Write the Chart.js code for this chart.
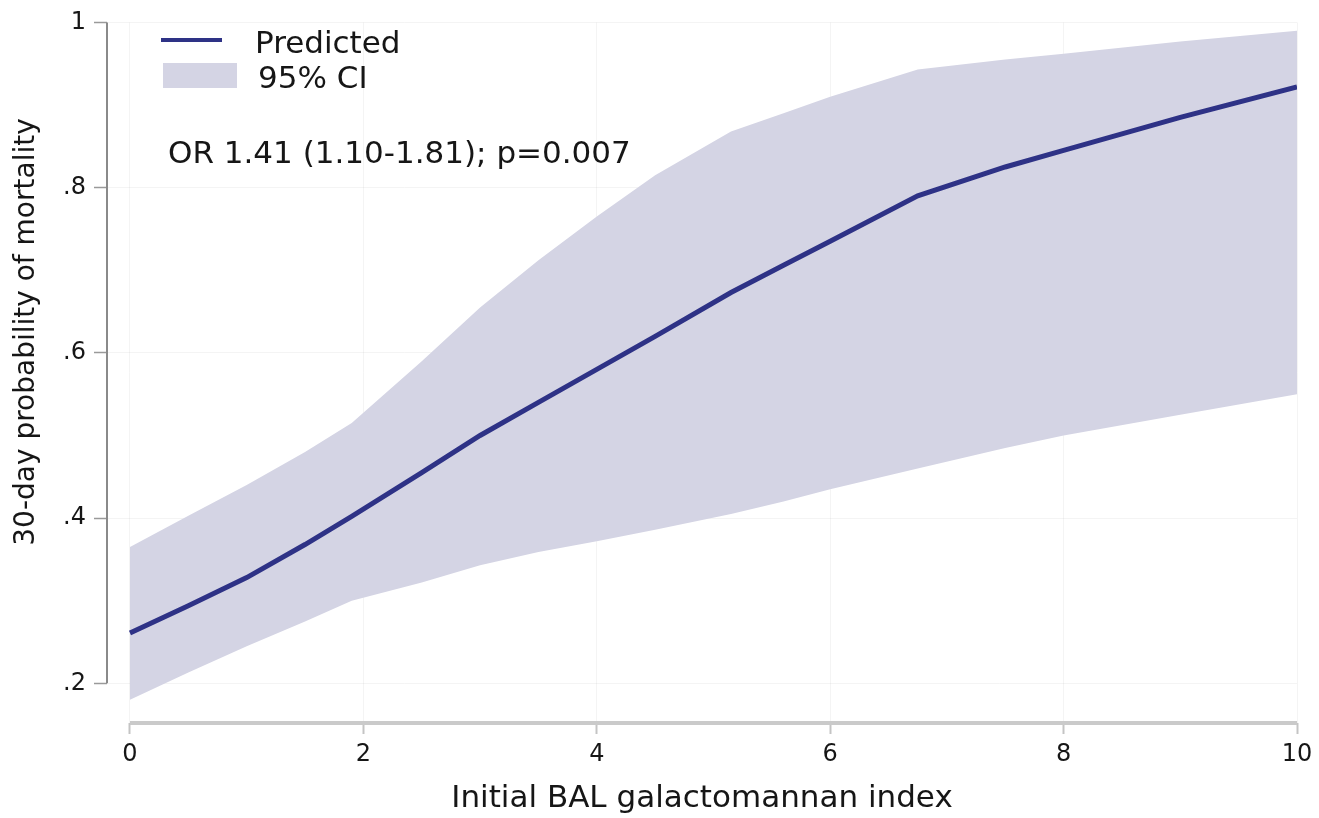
<!DOCTYPE html>
<html>
<head>
<meta charset="utf-8">
<script src="https://cdn.jsdelivr.net/npm/chart.js@4.4.1/dist/chart.umd.min.js"></script>
<style>
  html, body { margin: 0; padding: 0; background: #fff; }
  canvas { display: block; }
</style>
</head>
<body>
<canvas id="chart" width="1319" height="818"></canvas>
<script>
// values
const galIndex  = [0, 0.5, 1, 1.5, 1.9, 2.5, 3, 3.5, 4, 4.5, 5.15, 5.6, 6, 6.75, 7.5, 8, 9, 10];
const predicted = [0.261, 0.294, 0.328, 0.368, 0.402, 0.455, 0.50, 0.54, 0.58, 0.62, 0.673, 0.706, 0.735, 0.79, 0.825, 0.845, 0.885, 0.922];
const ciLower   = [0.18, 0.213, 0.245, 0.275, 0.30, 0.322, 0.343, 0.359, 0.372, 0.386, 0.405, 0.42, 0.435, 0.46, 0.485, 0.50, 0.525, 0.55];
const ciUpper   = [0.365, 0.403, 0.44, 0.48, 0.515, 0.59, 0.655, 0.712, 0.765, 0.815, 0.868, 0.89, 0.91, 0.943, 0.955, 0.962, 0.977, 0.99];

const xTicks = [0, 2, 4, 6, 8, 10];
const yTicks = [0.2, 0.4, 0.6, 0.8, 1];
const yTickLabels = [".2", ".4", ".6", ".8", "1"];

const lineColor = "#2e3286";
const bandColor = "rgb(212,212,228)";
const textColor = "#161616";
const fam = "'DejaVu Sans', sans-serif";

function pts(ys) {
    return galIndex.map((x, i) => ({ x: x, y: ys[i] }));
}

// stata-ish bits: detached axis lines, y title, legend and note
const stataExtras = {
    id: "stataExtras",
    afterDraw(chart) {
        const ctx = chart.ctx;
        const xs = chart.scales.x, ys = chart.scales.y;
        const area = chart.chartArea;
        ctx.save();

        ctx.strokeStyle = "#8a8a8a";
        ctx.lineWidth = 2;
        ctx.beginPath();
        ctx.moveTo(area.left, ys.getPixelForValue(1));
        ctx.lineTo(area.left, ys.getPixelForValue(0.2));
        ctx.stroke();

        ctx.strokeStyle = "#cacaca";
        ctx.lineWidth = 4;
        ctx.beginPath();
        ctx.moveTo(xs.getPixelForValue(0), area.bottom);
        ctx.lineTo(xs.getPixelForValue(10), area.bottom);
        ctx.stroke();

        ctx.fillStyle = textColor;
        ctx.font = "28px " + fam;
        ctx.textAlign = "center";
        ctx.textBaseline = "alphabetic";
        ctx.save();
        ctx.translate(34, 332);
        ctx.rotate(-Math.PI / 2);
        ctx.fillText("30-day probability of mortality", 0, 0);
        ctx.restore();

        // legend
        ctx.strokeStyle = lineColor;
        ctx.lineWidth = 4;
        ctx.beginPath();
        ctx.moveTo(161, 40);
        ctx.lineTo(222, 40);
        ctx.stroke();
        ctx.fillStyle = bandColor;
        ctx.fillRect(163, 63, 74, 25);

        ctx.fillStyle = textColor;
        ctx.textAlign = "left";
        ctx.font = "31px " + fam;
        ctx.fillText("Predicted", 255, 53);
        ctx.fillText("95% CI", 258, 88);
        ctx.fillText("OR 1.41 (1.10-1.81); p=0.007", 168, 163);

        ctx.restore();
    }
};

new Chart(document.getElementById("chart"), {
    type: "line",
    data: {
        datasets: [
            {
                label: "Predicted",
                data: pts(predicted),
                borderColor: lineColor,
                borderWidth: 5,
                fill: false,
                pointRadius: 0,
                tension: 0
            }, {
                label: "lower",
                data: pts(ciLower),
                borderColor: "transparent",
                borderWidth: 0,
                fill: false,
                pointRadius: 0
            }, {
                label: "95% CI",
                data: pts(ciUpper),
                borderColor: "transparent",
                borderWidth: 0,
                backgroundColor: bandColor,
                fill: "-1",
                pointRadius: 0
            }
        ]
    },
    options: {
        responsive: false,
        animation: false,
        layout: { padding: { top: 15, right: 22, left: 0, bottom: 0 } },
        plugins: {
            legend: { display: false },
            tooltip: { enabled: false }
        },
        scales: {
            x: {
                type: "linear",
                min: -0.197,
                max: 10,
                afterBuildTicks: s => { s.ticks = xTicks.map(v => ({ value: v })); },
                afterFit: s => { s.height = 95; },
                border: { display: false },
                grid: {
                    color: "rgba(0,0,0,0.045)",
                    tickColor: "#c4c4c4",
                    tickLength: 11,
                    tickWidth: 2
                },
                ticks: {
                    font: { family: fam, size: 24 },
                    color: textColor,
                    padding: 6,
                    maxRotation: 0,
                    callback: v => String(v)
                },
                title: {
                    display: true,
                    text: "Initial BAL galactomannan index",
                    font: { family: fam, size: 31 },
                    color: textColor,
                    padding: { top: 0, bottom: 0 }
                }
            },
            y: {
                min: 0.152,
                max: 1,
                afterBuildTicks: s => { s.ticks = yTicks.map(v => ({ value: v })); },
                afterFit: s => { s.width = 107; },
                border: { display: false },
                grid: {
                    color: "rgba(0,0,0,0.045)",
                    tickColor: "#9a9a9a",
                    tickLength: 13,
                    tickWidth: 1.5
                },
                ticks: {
                    font: { family: fam, size: 24 },
                    color: textColor,
                    padding: 8,
                    callback: v => yTickLabels[yTicks.indexOf(v)]
                }
            }
        }
    },
    plugins: [stataExtras]
});
</script>
</body>
</html>
